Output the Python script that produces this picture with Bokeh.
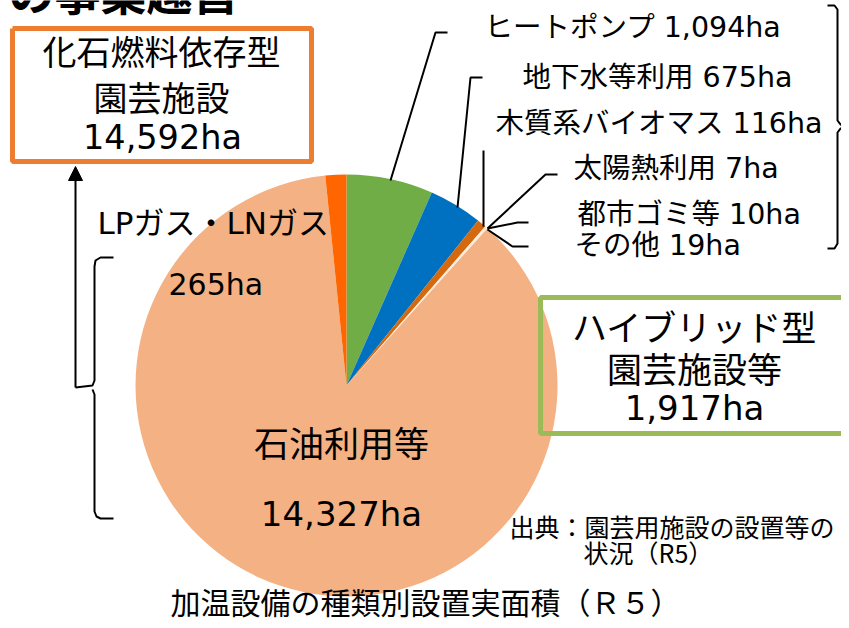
import math
from bokeh.plotting import figure
from bokeh.models import Range1d, Arrow, NormalHead
from bokeh.core.properties import value
from bokeh.embed import file_html
from bokeh.resources import INLINE

# ---- data ----
categories = ["ヒートポンプ", "地下水等利用", "木質系バイオマス", "太陽熱利用",
              "都市ゴミ等", "その他", "石油利用等", "LPガス・LNガス"]
areas_ha = [1094, 675, 116, 7, 10, 19, 14327, 265]
slice_colors = ["#70AD47", "#0070C0", "#D4690F", "#FFF2CC", "#FBE5D6",
                "#FDEBDD", "#F4B183", "#FF6600"]
fossil_total = 14592
hybrid_total = 1917

JP = "Noto Sans CJK JP"
MIX = "DejaVu Sans, Noto Sans CJK JP"

W, H = 841, 620
p = figure(width=W, height=H, x_range=Range1d(0, W), y_range=Range1d(0, H),
           output_backend="svg", toolbar_location=None, min_border=0)
p.axis.visible = False
p.grid.visible = False
p.outline_line_color = None
p.background_fill_color = "white"


def Y(py):
    return H - py


# ---- pie ----
total = sum(areas_ha)
cum = 0.0
starts, ends = [], []
for a in areas_ha:
    f0 = cum / total
    cum += a
    f1 = cum / total
    starts.append(math.pi / 2 - 2 * math.pi * f1)
    ends.append(math.pi / 2 - 2 * math.pi * f0)

cx, cy, r = 346, Y(385), 211
p.wedge(x=[cx] * len(areas_ha), y=[cy] * len(areas_ha), radius=r,
        start_angle=starts, end_angle=ends, direction="anticlock",
        fill_color=slice_colors, line_color=None)


def T(x, py, s, size, align="center", font=MIX, style="normal", baseline="middle"):
    p.text(x=[x], y=[Y(py)], text=[s], text_font=value(font),
           text_font_size=f"{size}px", text_align=align, text_baseline=baseline,
           text_color="#000000", text_font_style=style)


def L(pts, w=2):
    p.line([q[0] for q in pts], [Y(q[1]) for q in pts], line_color="black", line_width=w)


# ---- boxes ----
p.line([12, 311, 311, 12, 12], [Y(28), Y(28), Y(161), Y(161), Y(28)],
       line_color="#ED7D31", line_width=5)
p.line([870, 540, 540, 870], [Y(297), Y(297), Y(433), Y(433)],
       line_color="#9BBB59", line_width=5)

# ---- leader lines ----
L([(390, 180), (435, 32), (447, 32)])
L([(457, 207), (470, 77), (482, 77)])
L([(483, 150), (483, 226)])
L([(487, 228), (545, 174), (557, 174)])
L([(487, 228), (517, 222), (528, 222)])
L([(487, 229), (512, 246), (528, 246)])

# right brace
L([(827, 5), (834, 5), (837, 9), (837, 120), (840, 124), (846, 126),
   (840, 128), (837, 132), (837, 243), (834, 248), (827, 248)])

# left brace and arrow
L([(113, 257), (100, 257), (95, 260), (94, 266), (94, 380), (92, 385), (75, 387)])
L([(92, 389), (94, 394), (94, 511), (96, 516), (100, 518), (113, 518)])
p.add_layout(Arrow(end=NormalHead(size=14, fill_color="black", line_color="black"),
                   x_start=75, y_start=Y(387), x_end=75, y_end=Y(166),
                   line_color="black", line_width=2))

# ---- texts ----
T(8, 22, "の事業趣旨", 46, align="left", font=JP, style="bold", baseline="bottom")

T(161, 50, "化石燃料依存型", 34, font=JP)
T(161, 96, "園芸施設", 34, font=JP)
T(162, 137, f"{fossil_total:,}ha", 33.5)

T(694, 325, "ハイブリッド型", 35, font=JP)
T(694, 367, "園芸施設等", 35, font=JP)
T(694, 407, f"{hybrid_total:,}ha", 34)

T(484, 27, f"{categories[0]} {areas_ha[0]:,}ha", 28.5, align="left")
T(522, 77, f"{categories[1]} {areas_ha[1]:,}ha", 28.5, align="left")
T(495, 123, f"{categories[2]} {areas_ha[2]:,}ha", 28.5, align="left")
T(573, 168, f"{categories[3]} {areas_ha[3]:,}ha", 28.5, align="left")
T(577, 214, f"{categories[4]} {areas_ha[4]:,}ha", 28.5, align="left")
T(574, 245, f"{categories[5]} {areas_ha[5]:,}ha", 28.5, align="left")

T(97, 222, categories[7], 31, align="left")
T(168, 284, f"{areas_ha[7]:,}ha", 30, align="left")

T(341, 441, categories[6], 35, font=JP)
T(341, 513, f"{areas_ha[6]:,}ha", 34)

T(509, 525, "出典：園芸用施設の設置等の", 25, align="left", font=JP)
T(583, 551, "状況（R5）", 25, align="left", font=JP)

T(170, 600, "加温設備の種類別設置実面積（Ｒ５）", 30, align="left", font=JP)

open("out.html", "w").write(file_html(p, INLINE))
